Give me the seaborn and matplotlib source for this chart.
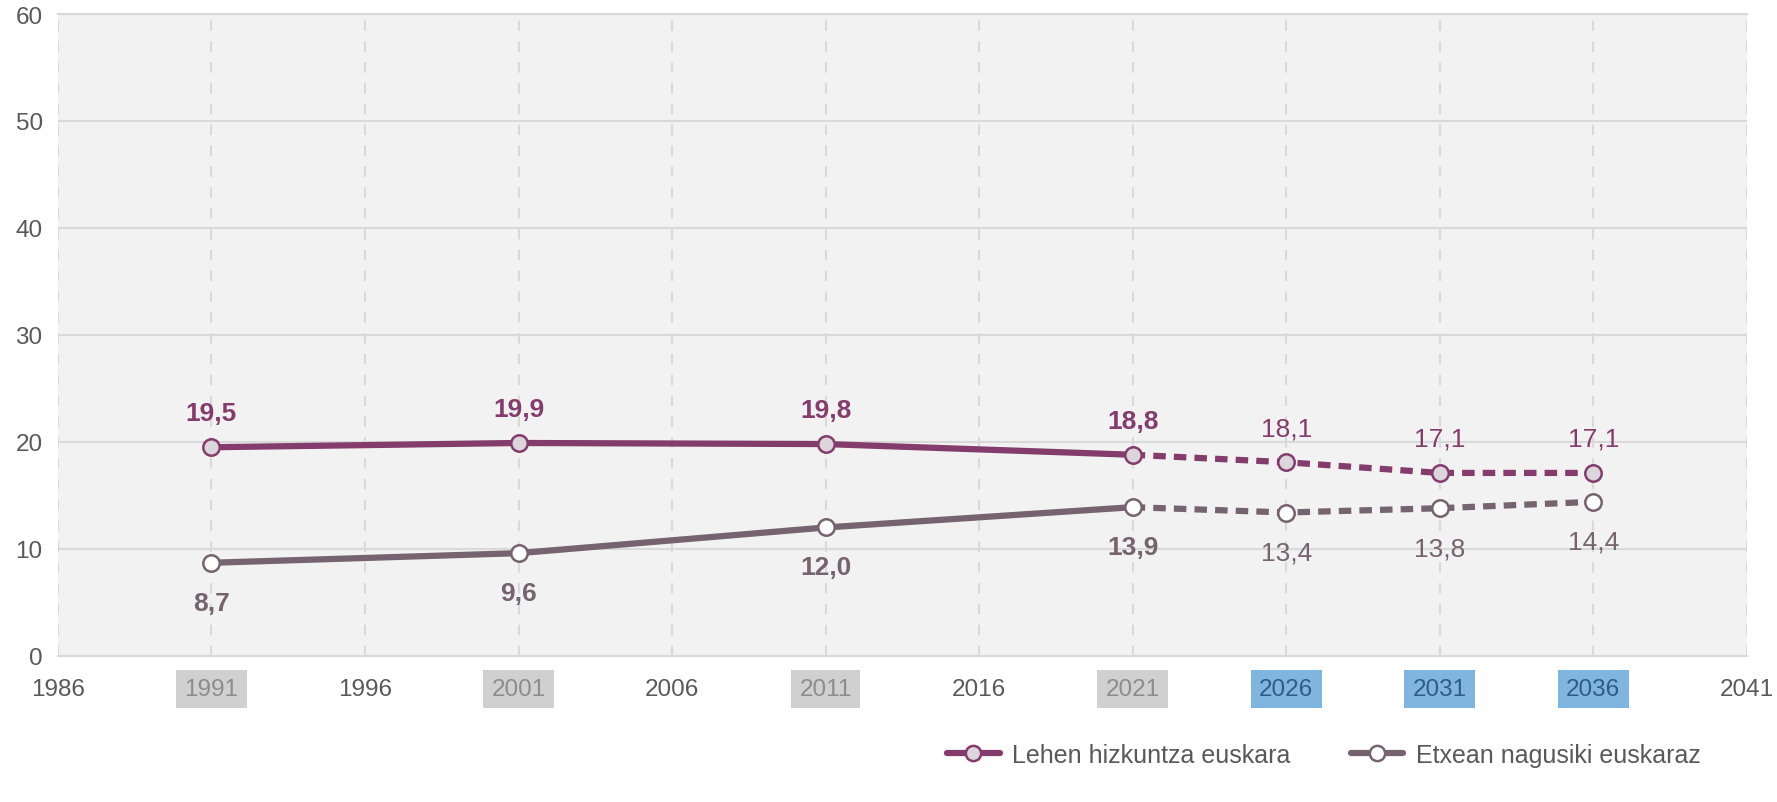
import pandas as pd
import matplotlib
matplotlib.use("Agg")
import matplotlib.pyplot as plt
import seaborn as sns
from matplotlib.lines import Line2D

# Datuak
years = [1991, 2001, 2011, 2021, 2026, 2031, 2036]
lehen = [19.5, 19.9, 19.8, 18.8, 18.1, 17.1, 17.1]
etxean = [8.7, 9.6, 12.0, 13.9, 13.4, 13.8, 14.4]
series_names = ["Lehen hizkuntza euskara", "Etxean nagusiki euskaraz"]
last_census = 2021
xticks = list(range(1986, 2042, 5))
yticks = list(range(0, 61, 10))

purple = "#843c6c"
grey = "#75636f"
text_col = "#595959"
grid_col = "#d9d9d9"

sns.set_theme(style="white")
plt.rcParams['font.family'] = ['Liberation Sans', 'DejaVu Sans']

df = pd.DataFrame({"year": years, series_names[0]: lehen, series_names[1]: etxean})

fig = plt.figure(figsize=(17.77, 8.03), dpi=100)
ax = fig.add_axes([0.0326, 0.182, 0.9504, 0.7993])
ax.set_facecolor("#f2f2f2")

styles = [
    (series_names[0], purple, "#dcd5db", 1),
    (series_names[1], grey, "white", -1),
]

for name, col, face, side in styles:
    hist = df[df["year"] <= last_census]
    proj = df[df["year"] >= last_census]
    # errolda datuak: lerro jarraitua; proiekzioak: marratua
    sns.lineplot(data=hist, x="year", y=name, ax=ax, color=col, linewidth=4.5,
                 zorder=3, legend=False)
    sns.lineplot(data=proj, x="year", y=name, ax=ax, color=col, linewidth=4.5,
                 linestyle=(0, (2, 1.3)), zorder=3, legend=False)
    sns.scatterplot(data=df, x="year", y=name, ax=ax, s=140, color=face,
                    edgecolor=col, linewidth=1.8, zorder=4, legend=False)
    for yr, val in zip(df["year"], df[name]):
        hist_pt = yr <= last_census
        offs = 34 if side > 0 else -40
        ax.annotate(f"{val:.1f}".replace(".", ","), (yr, val),
                    xytext=(0, offs), textcoords="offset pixels",
                    ha="center", va="center", fontsize=19,
                    fontweight="bold" if hist_pt else "normal", color=col)

ax.set_xlim(1986, 2041)
ax.set_ylim(0, 60)
ax.set_xticks(xticks)
ax.set_yticks(yticks)
ax.set_xlabel("")
ax.set_ylabel("")

ax.grid(axis="y", color=grid_col, linewidth=1.5, linestyle="-", zorder=0)
ax.grid(axis="x", color=grid_col, linewidth=1.5, linestyle=(0, (5, 5)), zorder=0)
ax.set_axisbelow(True)
for s in ["left", "right"]:
    ax.spines[s].set_visible(False)
for s in ["top", "bottom"]:
    ax.spines[s].set_color(grid_col)
    ax.spines[s].set_linewidth(1.5)

ax.tick_params(axis="both", length=0, labelsize=17.5, labelcolor=text_col)
ax.tick_params(axis="x", pad=16)
ax.tick_params(axis="y", pad=11)

for lbl, yr in zip(ax.get_xticklabels(), xticks):
    if yr in years and yr <= last_census:
        lbl.set_color("#8c8c8c")
        lbl.set_bbox(dict(facecolor="#d0d0d0", edgecolor="none", pad=6))
    elif yr in years:
        lbl.set_color("#2f5c86")
        lbl.set_bbox(dict(facecolor="#80b5e0", edgecolor="none", pad=6))

handles = [
    Line2D([0], [0], color=purple, linewidth=4.5, marker="o", markersize=11,
           markerfacecolor="#dcd5db", markeredgecolor=purple, markeredgewidth=1.8),
    Line2D([0], [0], color=grey, linewidth=4.5, marker="o", markersize=11,
           markerfacecolor="white", markeredgecolor=grey, markeredgewidth=1.8),
]
fig.legend(handles, series_names, loc="center", bbox_to_anchor=(0.745, 0.059),
           ncol=2, frameon=False, handlelength=2.1, handletextpad=0.5,
           columnspacing=2.4, labelcolor=text_col,
           prop={"family": ["Liberation Sans", "DejaVu Sans"], "size": 18})

fig.savefig("out.png", dpi=100)
